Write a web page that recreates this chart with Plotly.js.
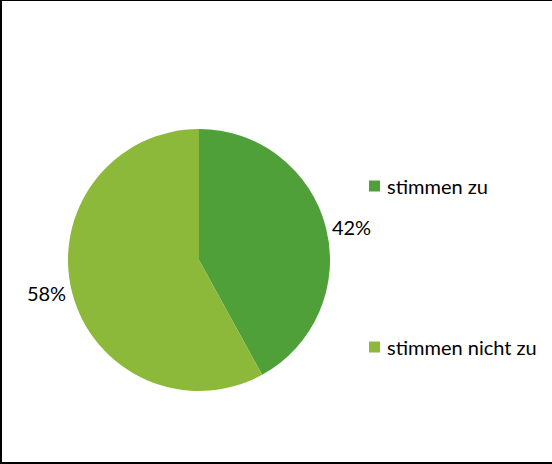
<!DOCTYPE html>
<html>
<head>
<meta charset="utf-8">
<script src="https://cdn.plot.ly/plotly-3.0.1.min.js"></script>
<style>
  html, body { margin: 0; padding: 0; background: #fff; }
  #wrap { position: relative; width: 552px; height: 464px; }
  #plot { width: 552px; height: 464px; }
  #frame { position: absolute; left: 0; top: 0; width: 552px; height: 464px; box-sizing: border-box;
           border-top: 1px solid #000; border-left: 2px solid #000; border-bottom: 2px solid #000;
           pointer-events: none; }
</style>
</head>
<body>
<div id="wrap"><div id="plot"></div><div id="frame"></div></div>
<script>
const categories = ["stimmen zu", "stimmen nicht zu"];
const values = [42, 58];
const colors = ["#50a03a", "#8db93a"];

const W = 552, H = 464;
const cx = 199, cy = 260, r = 131;
const FONT = "Lato, sans-serif";

const trace = {
  type: "pie",
  labels: categories,
  values: values,
  sort: false,
  direction: "clockwise",
  rotation: 0,
  marker: { colors: colors, line: { width: 0 } },
  textinfo: "percent",
  textposition: "outside",
  textfont: { family: FONT, size: 20, color: "#000" },
  automargin: false,
  hoverinfo: "none",
  showlegend: false,
  domain: {
    x: [(cx - r) / W, (cx + r) / W],
    y: [(H - cy - r) / H, (H - cy + r) / H]
  }
};

// legend drawn as a key: square + label per category
const legendY = [186, 347];   // pixel centre of each key row
const annotations = [], shapes = [];
categories.forEach((c, i) => {
  const yc = legendY[i];
  shapes.push({
    type: "rect", xref: "paper", yref: "paper",
    x0: 369 / W, x1: 380 / W,
    y0: (H - yc - 5.5) / H, y1: (H - yc + 5.5) / H,
    fillcolor: colors[i], line: { width: 0 }
  });
  annotations.push({
    xref: "paper", yref: "paper",
    x: 385 / W, y: (H - yc) / H,
    xanchor: "left", yanchor: "middle",
    text: c, showarrow: false,
    font: { family: FONT, size: 20, color: "#000" }
  });
});

const layout = {
  width: W, height: H,
  margin: { l: 0, r: 0, t: 0, b: 0 },
  paper_bgcolor: "#fff",
  showlegend: false,
  shapes: shapes,
  annotations: annotations
};

Plotly.newPlot("plot", [trace], layout, { displayModeBar: false, staticPlot: true });
</script>
</body>
</html>
